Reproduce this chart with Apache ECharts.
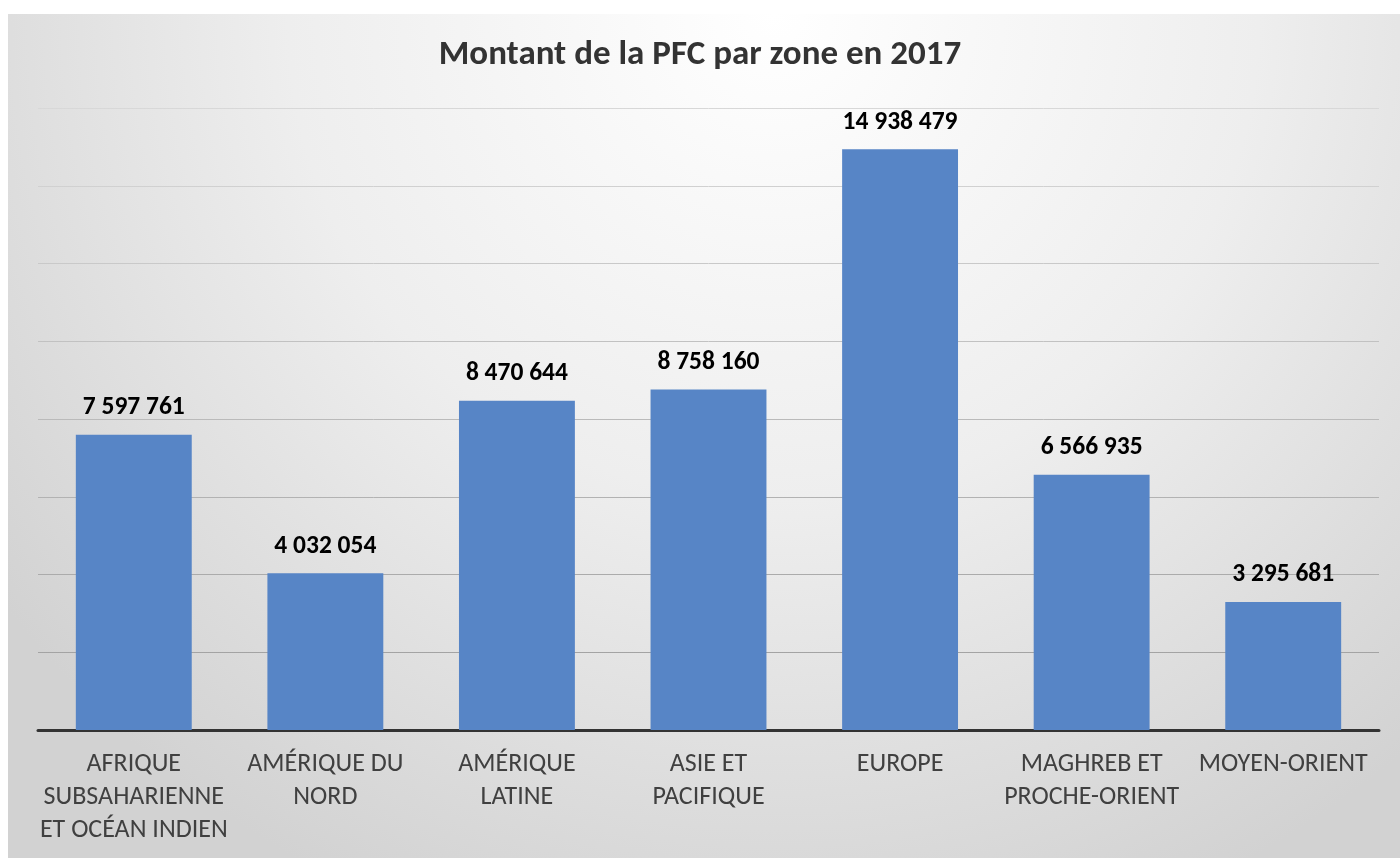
<!DOCTYPE html>
<html>
<head>
<meta charset="utf-8">
<title>Montant de la PFC par zone en 2017</title>
<script src="https://cdn.jsdelivr.net/npm/echarts@6/dist/echarts.min.js"></script>
<style>
  html, body { margin: 0; padding: 0; background: #fff; }
  #chart { width: 1400px; height: 858px; }
</style>
</head>
<body>
<div id="chart"></div>
<script>
  // zones et montants 2017
  const zones = [
    'AFRIQUE\nSUBSAHARIENNE\nET OCÉAN INDIEN',
    'AMÉRIQUE DU\nNORD',
    'AMÉRIQUE\nLATINE',
    'ASIE ET\nPACIFIQUE',
    'EUROPE',
    'MAGHREB ET\nPROCHE-ORIENT',
    'MOYEN-ORIENT'
  ];
  const montants = [7597761, 4032054, 8470644, 8758160, 14938479, 6566935, 3295681];
  const axisMax = 16000000;
  const axisStep = 2000000;

  const font = 'Carlito, Lato, sans-serif';

  function fmt(v) {
    return String(v).replace(/\B(?=(\d{3})+(?!\d))/g, ' ');
  }

  let myChart = echarts.init(document.getElementById('chart'));
  let option = {
    animation: false,
    graphic: [{
      type: 'rect',
      z: -10,
      silent: true,
      shape: { x: 8, y: 14, width: 1392, height: 844 },
      style: {
        fill: {
          type: 'radial',
          x: 0.55, y: 0.0, r: 1.15,
          colorStops: [
            { offset: 0, color: '#ffffff' },
            { offset: 0.5, color: '#eeeeee' },
            { offset: 1, color: '#d2d2d2' }
          ]
        }
      }
    }],
    title: {
      text: 'Montant de la PFC par zone en 2017',
      left: 'center',
      top: 33,
      textStyle: {
        fontFamily: font,
        fontSize: 35,
        fontWeight: 'bold',
        color: '#333333'
      }
    },
    grid: {
      left: 38,
      right: 21,
      top: 108,
      bottom: 128,
      containLabel: false
    },
    xAxis: {
      type: 'category',
      data: zones,
      axisTick: { show: false },
      axisLine: {
        lineStyle: { color: '#333333', width: 3 }
      },
      axisLabel: {
        interval: 0,
        margin: 18,
        fontFamily: font,
        fontSize: 26,
        lineHeight: 33,
        color: '#404040'
      }
    },
    yAxis: {
      type: 'value',
      min: 0,
      max: axisMax,
      interval: axisStep,
      axisLabel: { show: false },
      axisLine: { show: false },
      axisTick: { show: false },
      splitLine: {
        lineStyle: {
          width: 1,
          // plus clair en haut, plus foncé en bas
          color: {
            type: 'linear', global: true,
            x: 0, y: 108, x2: 0, y2: 730,
            colorStops: [
              { offset: 0, color: '#d8d8d8' },
              { offset: 1, color: '#9c9c9c' }
            ]
          }
        }
      }
    },
    series: [{
      type: 'bar',
      data: montants,
      barWidth: '60.5%',
      itemStyle: { color: '#5785c6' },
      label: {
        show: true,
        position: 'top',
        distance: 14,
        formatter: p => fmt(p.value),
        fontFamily: font,
        fontSize: 25.5,
        fontWeight: 'bold',
        color: '#000000'
      }
    }]
  };
  myChart.setOption(option);
</script>
</body>
</html>
